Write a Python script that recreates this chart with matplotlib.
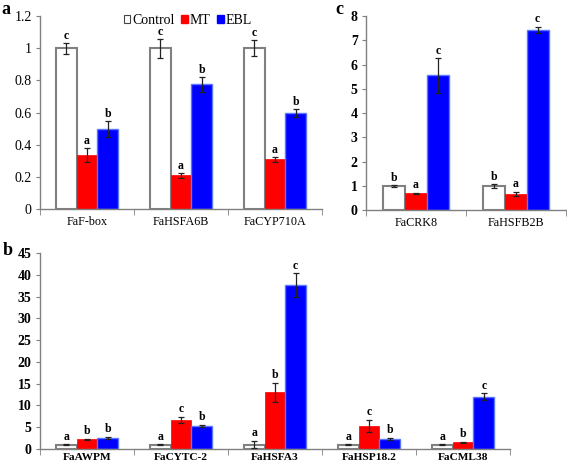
import numpy as np
import matplotlib.pyplot as plt
from matplotlib.patches import Patch

plt.rcParams['font.family'] = ['Liberation Serif', 'DejaVu Serif']

# panel a
genes_a = ['FaF-box', 'FaHSFA6B', 'FaCYP710A']
ctrl_a = [1.0, 1.0, 1.0]
ctrl_a_err = [0.035, 0.06, 0.05]
mt_a = [0.335, 0.21, 0.31]
mt_a_err = [0.045, 0.015, 0.015]
ebl_a = [0.50, 0.775, 0.60]
ebl_a_err = [0.05, 0.045, 0.025]
letters_a = [['c', 'a', 'b'], ['c', 'a', 'b'], ['c', 'a', 'b']]

# panel b
genes_b = ['FaAWPM', 'FaCYTC-2', 'FaHSFA3', 'FaHSP18.2', 'FaCML38']
ctrl_b = [1.0, 1.0, 1.0, 1.0, 1.0]
ctrl_b_err = [0.05, 0.05, 0.8, 0.05, 0.05]
mt_b = [2.2, 6.7, 13.0, 5.3, 1.5]
mt_b_err = [0.2, 0.7, 2.2, 1.4, 0.1]
ebl_b = [2.6, 5.3, 37.6, 2.3, 12.0]
ebl_b_err = [0.2, 0.2, 2.7, 0.2, 0.8]
letters_b = [['a', 'b', 'b'], ['a', 'c', 'b'], ['a', 'b', 'c'], ['a', 'c', 'b'], ['a', 'b', 'c']]

# panel c
genes_c = ['FaCRK8', 'FaHSFB2B']
ctrl_c = [1.0, 1.0]
ctrl_c_err = [0.03, 0.08]
mt_c = [0.70, 0.68]
mt_c_err = [0.02, 0.08]
ebl_c = [5.55, 7.42]
ebl_c_err = [0.72, 0.13]
letters_c = [['b', 'a', 'c'], ['b', 'a', 'c']]

GRAY = '#808080'
RED = '#ff0000'
BLUE = '#0000ff'


def draw(ax, genes, series, errs, letters, ymax, ystep, off, bold, xpad):
    x = np.arange(len(genes))
    w = 0.22
    styles = [dict(color='white', edgecolor=GRAY, linewidth=1.5),
              dict(color=RED, edgecolor=RED, linewidth=0.5),
              dict(color=BLUE, edgecolor='#5a78ff', linewidth=1.0)]
    for i, (vals, err) in enumerate(zip(series, errs)):
        xs = x + (i - 1) * w
        ax.bar(xs, vals, w, zorder=2, **styles[i])
        ax.errorbar(xs, vals, yerr=err, fmt='none', ecolor='#222222',
                    elinewidth=0.9, capsize=2.2, capthick=0.9, zorder=3)
        for j in range(len(genes)):
            ax.text(xs[j], vals[j] + err[j] + off, letters[j][i], ha='center',
                    va='bottom', fontsize=8.5, fontweight='bold')
    ax.set_xlim(-0.5, len(genes) - 0.5)
    ax.set_ylim(0, ymax)
    ax.set_yticks(np.arange(0, ymax + ystep / 2, ystep))
    ax.set_xticks(x)
    ax.set_xticklabels(genes, fontsize=8.2 if bold else 8.7,
                       fontweight='bold' if bold else 'normal')
    ax.set_xticks(np.arange(len(genes) + 1) - 0.5, minor=True)
    ax.tick_params(axis='x', which='major', length=0, pad=xpad)
    ax.tick_params(axis='x', which='minor', length=4, color=GRAY, direction='out')
    ax.tick_params(axis='y', length=3, color=GRAY, labelsize=10, pad=3)
    for lab in ax.get_yticklabels():
        lab.set_fontweight('bold' if bold else 'normal')
    for s in ['top', 'right']:
        ax.spines[s].set_visible(False)
    for s in ['left', 'bottom']:
        ax.spines[s].set_color(GRAY)
        ax.spines[s].set_linewidth(1.0)


fig = plt.figure(figsize=(5.67, 4.65), dpi=100)
ax_a = fig.add_axes([0.0705, 0.5505, 0.4975, 0.415])
ax_c = fig.add_axes([0.6455, 0.548, 0.352, 0.4176])
ax_b = fig.add_axes([0.0705, 0.0344, 0.829, 0.4215])

draw(ax_a, genes_a, [ctrl_a, mt_a, ebl_a], [ctrl_a_err, mt_a_err, ebl_a_err],
     letters_a, 1.2, 0.2, 0.005, False, 5)
ax_a.set_yticks([0, 0.2, 0.4, 0.6, 0.8, 1.0, 1.2])
ax_a.set_yticklabels(['0', '0.2', '0.4', '0.6', '0.8', '1', '1.2'])
draw(ax_b, genes_b, [ctrl_b, mt_b, ebl_b], [ctrl_b_err, mt_b_err, ebl_b_err],
     letters_b, 45, 5, 0.4, True, 3)
draw(ax_c, genes_c, [ctrl_c, mt_c, ebl_c], [ctrl_c_err, mt_c_err, ebl_c_err],
     letters_c, 8, 1, 0.06, True, 5)
for lab in ax_c.get_xticklabels():
    lab.set_fontweight('normal')
    lab.set_fontsize(8.7)

handles = [Patch(facecolor='white', edgecolor='#444444', linewidth=0.8),
           Patch(facecolor=RED, edgecolor=RED),
           Patch(facecolor=BLUE, edgecolor=BLUE)]
fig.legend(handles, ['Control', 'MT', 'EBL'], loc='center left',
           bbox_to_anchor=(0.206, 0.956), ncol=3, frameon=False, fontsize=10,
           handlelength=0.45, handleheight=0.45, handletextpad=0.15,
           columnspacing=0.5, borderpad=0)

fig.text(0.002, 0.998, 'a', fontsize=13, fontweight='bold', va='top')
fig.text(0.592, 0.998, 'c', fontsize=13, fontweight='bold', va='top')
fig.text(0.004, 0.479, 'b', fontsize=13, fontweight='bold', va='top')

fig.savefig('out.png', dpi=100)
